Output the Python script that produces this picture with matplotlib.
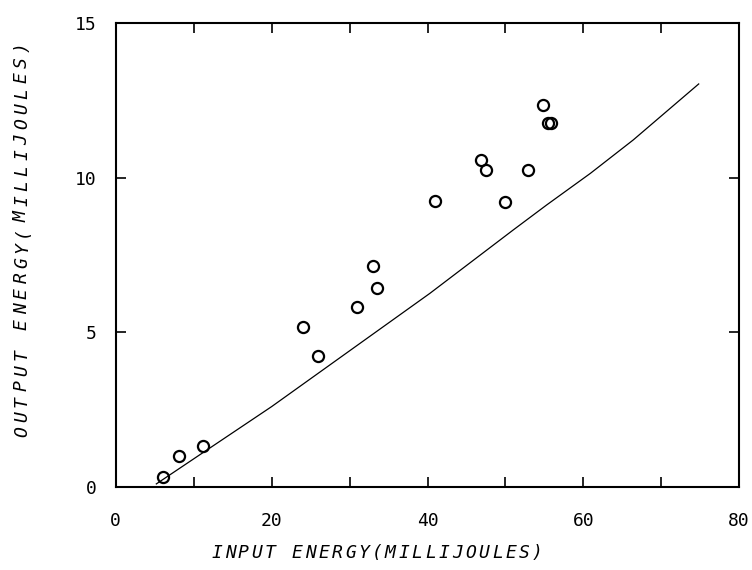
import numpy as np
import matplotlib
matplotlib.use("Agg")
import matplotlib.pyplot as plt

# measured points (input energy, output energy), millijoules
x_pts = [6.1, 8.1, 11.2, 24.0, 26.0, 31.0, 33.0, 33.5, 41.0,
         46.9, 47.5, 49.9, 52.9, 54.8, 55.4, 55.8]
y_pts = [0.33, 1.0, 1.34, 5.17, 4.24, 5.81, 7.15, 6.42, 9.25,
         10.57, 10.25, 9.22, 10.25, 12.35, 11.76, 11.76]

# calculated curve
x_line = [5.2, 20.0, 40.3, 51.0, 55.3, 60.9, 66.4, 74.8]
y_line = [0.1, 2.6, 6.26, 8.31, 9.12, 10.14, 11.22, 13.03]

x_ticks = [0, 20, 40, 60, 80]
y_ticks = [0, 5, 10, 15]

x_title = 'INPUT ENERGY(MILLIJOULES)'
y_title = 'OUTPUT ENERGY(MILLIJOULES)'

fnt = 'DejaVu Sans Mono'
W, H = 752, 570

fig = plt.figure(figsize=(7.52, 5.70), dpi=100)
ax = fig.add_axes([0.154, 0.1456, 0.829, 0.814])

ax.plot(x_line, y_line, color='black', linewidth=0.9)
ax.plot(x_pts, y_pts, linestyle='none', marker='o', markersize=8,
        markerfacecolor='none', markeredgecolor='black', markeredgewidth=1.6)

ax.set_xlim(0, 80)
ax.set_ylim(0, 15)

ax.set_xticks(x_ticks)
ax.set_xticks(np.arange(0, 81, 10), minor=True)
ax.set_yticks(y_ticks)
ax.set_xticklabels([str(t) for t in x_ticks], family=fnt, fontsize=13)
ax.set_yticklabels([str(t) for t in y_ticks], family=fnt, fontsize=13)
ax.tick_params(axis='both', which='both', direction='in', length=7, width=1.2,
               top=True, right=True, color='black')
ax.tick_params(axis='x', which='major', pad=18)
ax.tick_params(axis='y', which='major', pad=14)

for s in ax.spines.values():
    s.set_linewidth(1.5)

# axis titles: plotter lettering, spaced out one glyph at a time
x0, step = 216.7, 13.36
for i, ch in enumerate(x_title):
    fig.text((x0 + i * step) / W, 1 - 553 / H, ch, family=fnt, style='italic',
             fontsize=13, ha='center', va='center')

y0, stepy = 432.0, 15.4
for i, ch in enumerate(y_title):
    fig.text(22 / W, 1 - (y0 - i * stepy) / H, ch, family=fnt, style='italic',
             fontsize=13, ha='center', va='center', rotation=90)

fig.savefig('out.png', dpi=100)
